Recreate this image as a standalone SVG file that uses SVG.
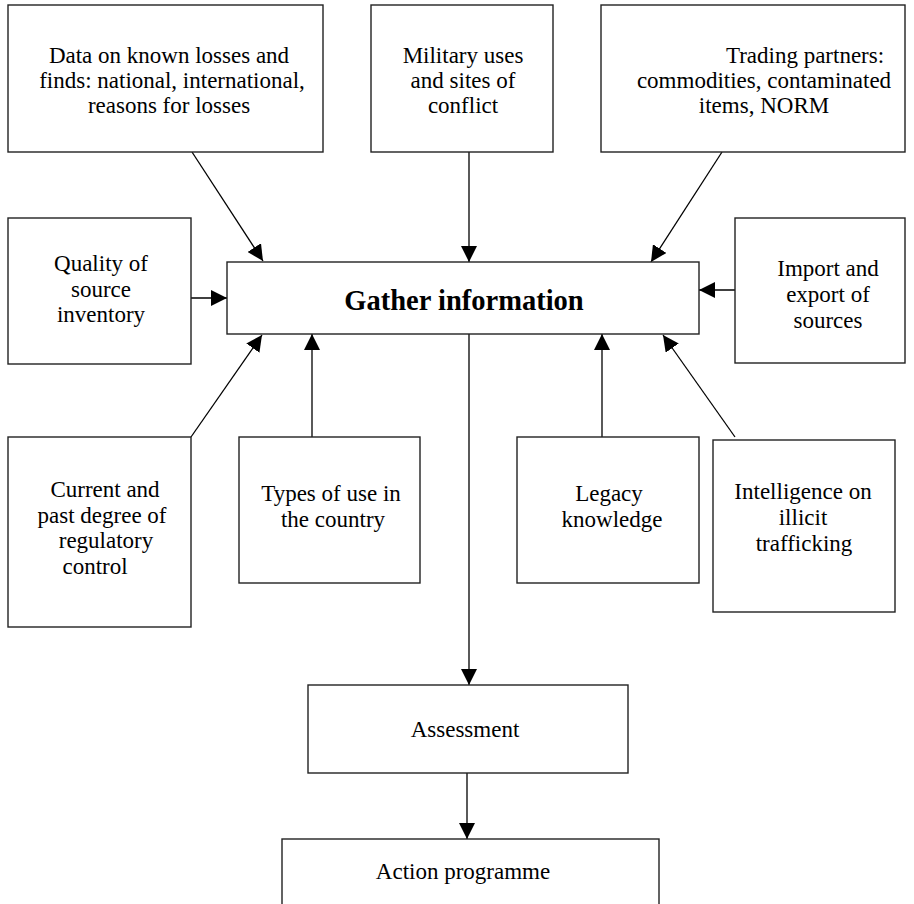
<svg xmlns="http://www.w3.org/2000/svg" width="914" height="904" viewBox="0 0 914 904" font-family="Liberation Serif, Times New Roman, Times, serif">
<defs>
<style>
.box{fill:#fff;stroke:#222;stroke-width:1.4}
.t{font-size:23px;fill:#000;text-anchor:middle}
.b{font-size:28.5px;font-weight:bold;fill:#000;text-anchor:middle}
.c{stroke:#000;stroke-width:1.3;fill:none;marker-end:url(#ah)}
</style>
<marker id="ah" markerUnits="userSpaceOnUse" markerWidth="16" markerHeight="16" refX="16" refY="8" orient="auto" viewBox="0 0 16 16">
<path d="M0,0 L16,8 L0,16 z" fill="#000"/>
</marker>
</defs>
<rect width="914" height="904" fill="#fff"/>
<g id="connectors">
<line class="c" x1="192" y1="152" x2="263" y2="261"/>
<line class="c" x1="469" y1="152" x2="469" y2="262"/>
<line class="c" x1="722" y1="152" x2="651" y2="262"/>
<line class="c" x1="191" y1="298" x2="227" y2="298"/>
<line class="c" x1="735" y1="290" x2="699" y2="290"/>
<line class="c" x1="191" y1="437" x2="262" y2="335"/>
<line class="c" x1="312" y1="437" x2="312" y2="334"/>
<line class="c" x1="602" y1="437" x2="602" y2="334"/>
<line class="c" x1="735" y1="437" x2="663" y2="335"/>
<line class="c" x1="469" y1="334" x2="469" y2="685"/>
<line class="c" x1="467" y1="773" x2="467" y2="839"/>
</g>
<g id="data-losses">
<rect class="box" x="8" y="5" width="315" height="147"/>
<text class="t" x="169" y="63">Data on known losses and</text>
<text class="t" x="172" y="88">finds: national, international,</text>
<text class="t" x="169" y="113">reasons for losses</text>
</g>
<g id="military">
<rect class="box" x="371" y="5" width="182" height="147"/>
<text class="t" x="463" y="63">Military uses</text>
<text class="t" x="463" y="88">and sites of</text>
<text class="t" x="463" y="113">conflict</text>
</g>
<g id="trading">
<rect class="box" x="601" y="5" width="304" height="147"/>
<text class="t" x="805" y="63">Trading partners:</text>
<text class="t" x="764" y="88">commodities, contaminated</text>
<text class="t" x="764" y="113">items, NORM</text>
</g>
<g id="gather">
<rect class="box" x="227" y="262" width="472" height="72"/>
<text class="b" x="464" y="310">Gather information</text>
</g>
<g id="quality">
<rect class="box" x="8" y="218" width="183" height="146"/>
<text class="t" x="101" y="271">Quality of</text>
<text class="t" x="101" y="297">source</text>
<text class="t" x="101" y="322">inventory</text>
</g>
<g id="import-export">
<rect class="box" x="735" y="218" width="170" height="145"/>
<text class="t" x="828" y="276">Import and</text>
<text class="t" x="828" y="302">export of</text>
<text class="t" x="828" y="328">sources</text>
</g>
<g id="regulatory">
<rect class="box" x="8" y="437" width="183" height="190"/>
<text class="t" x="105" y="497">Current and</text>
<text class="t" x="102" y="523">past degree of</text>
<text class="t" x="106" y="548">regulatory</text>
<text class="t" x="95" y="574">control</text>
</g>
<g id="types-of-use">
<rect class="box" x="239" y="437" width="181" height="146"/>
<text class="t" x="331" y="501">Types of use in</text>
<text class="t" x="333" y="527">the country</text>
</g>
<g id="legacy">
<rect class="box" x="517" y="437" width="182" height="146"/>
<text class="t" x="609" y="501">Legacy</text>
<text class="t" x="612" y="527">knowledge</text>
</g>
<g id="intelligence">
<rect class="box" x="713" y="440" width="182" height="172"/>
<text class="t" x="803" y="499">Intelligence on</text>
<text class="t" x="803" y="525">illicit</text>
<text class="t" x="804" y="551">trafficking</text>
</g>
<g id="assessment">
<rect class="box" x="308" y="685" width="320" height="88"/>
<text class="t" x="465" y="737">Assessment</text>
</g>
<g id="action">
<rect class="box" x="282" y="839" width="377" height="90"/>
<text class="t" x="463" y="879">Action programme</text>
</g>
</svg>
